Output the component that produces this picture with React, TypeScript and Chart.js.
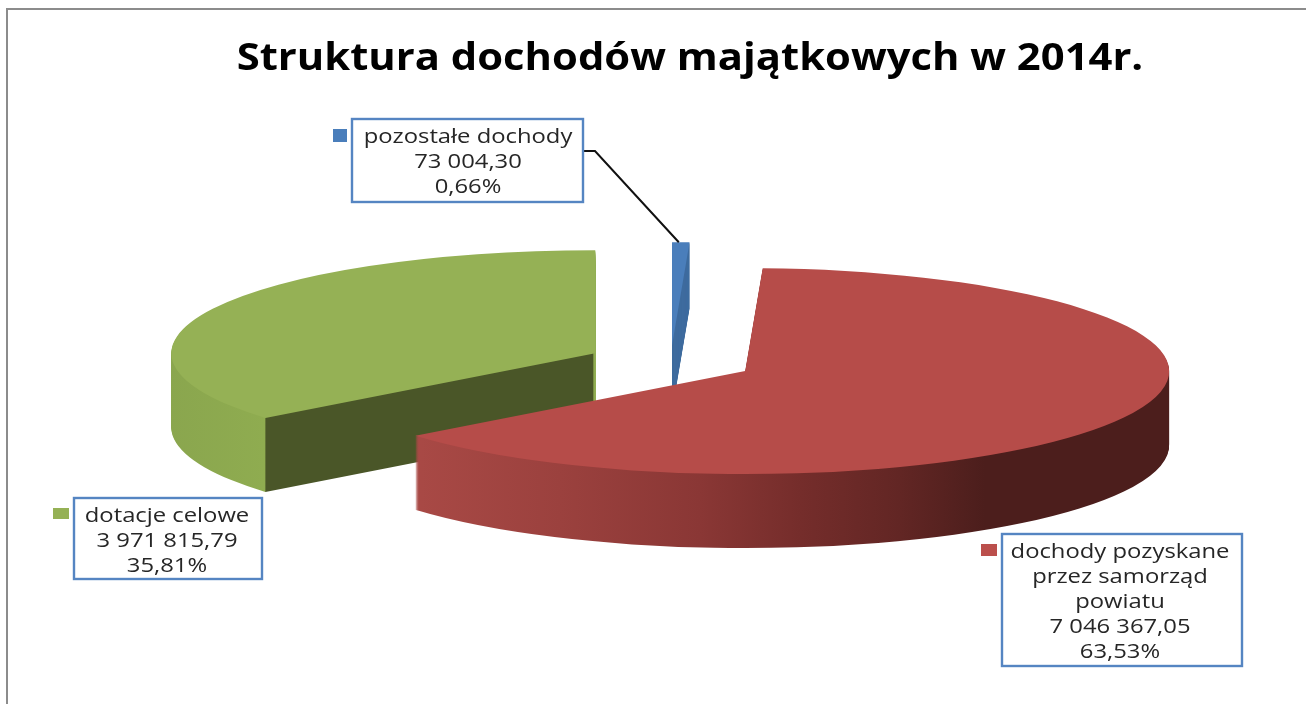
import React, { useEffect, useRef } from "react";
import { Chart, registerables } from "chart.js";

Chart.register(...registerables);

const chartTitle = "Struktura dochodów majątkowych w 2014r.";
const categories = ["pozostałe dochody", "dochody pozyskane przez samorząd powiatu", "dotacje celowe"];
const categoryLines = [["pozostałe dochody"], ["dochody pozyskane", "przez samorząd", "powiatu"], ["dotacje celowe"]];
const seriesValues = [73004.3, 7046367.05, 3971815.79];
const topColors = ["#4a7ebb", "#b64c49", "#95b155"];
const keyColors = ["#4a7ebb", "#bb4f4c", "#95b155"];
const explosion = [69, 83.5, 83.5];
const wallDepth = [66, 74, 74];

const PIE = { cx: 670.6, cy: 362, rx: 424, ry: 103 };
const FONT = '"Open Sans", sans-serif';
const BOXES = [
  { x: 352, y: 119, w: 231, h: 83, cx: 468, firstLine: 137, step: 25.3, key: [333, 129, 14, 13] },
  { x: 1002, y: 534, w: 240, h: 132, cx: 1120, firstLine: 552, step: 25, key: [981, 544, 16, 12] },
  { x: 74, y: 498, w: 188, h: 81, cx: 167, firstLine: 516, step: 25, key: [53, 508, 16, 11] },
];

const formatValue = (v: number) => {
  const [whole, dec] = v.toFixed(2).split(".");
  return whole.replace(/\B(?=(\d{3})+(?!\d))/g, " ") + "," + dec;
};
const total = seriesValues.reduce((a, b) => a + b, 0);
const formatPct = (v: number) => ((v / total) * 100).toFixed(2).replace(".", ",") + "%";

function wallFill(ctx: CanvasRenderingContext2D, i: number, tx: number, tipX: number): CanvasGradient | string {
  if (i === 0) return "#3f6c9f";
  const stops: [number, string][] =
    i === 1
      ? [
          [401, "#aa4a46"],
          [560, "#9b413e"],
          [700, "#8a3735"],
          [800, "#752d2b"],
          [900, "#622624"],
          [985, "#4c1e1c"],
          [1175, "#4c1e1c"],
        ]
      : [
          [170, "#8aa64e"],
          [tipX - 0.5, "#8fac50"],
          [tipX + 0.5, "#4a5628"],
          [592.5, "#4a5628"],
          [594, "#8fac50"],
          [600, "#8fac50"],
        ];
  const x0 = stops[0][0];
  const x1 = stops[stops.length - 1][0];
  const g = ctx.createLinearGradient(x0 - tx, 0, x1 - tx, 0);
  stops.forEach(([x, c]) => g.addColorStop((x - x0) / (x1 - x0), c));
  return g;
}

const pie3d = {
  id: "pie3d",
  beforeDraw(chart: any) {
    const { ctx, width, height } = chart;
    ctx.save();
    ctx.fillStyle = "#ffffff";
    ctx.fillRect(0, 0, width, height);
    ctx.strokeStyle = "#8c8c8c";
    ctx.lineWidth = 2;
    ctx.beginPath();
    ctx.moveTo(7, height);
    ctx.lineTo(7, 9);
    ctx.lineTo(width, 9);
    ctx.stroke();
    ctx.restore();
  },
  beforeDatasetsDraw(chart: any) {
    const { ctx } = chart;
    const arcs = chart.getDatasetMeta(0).data;
    const s = PIE.ry / PIE.rx;
    [0, 2, 1].forEach((i) => {
      const el = arcs[i];
      const mid = (el.startAngle + el.endAngle) / 2;
      const e = explosion[i];
      const tx = PIE.cx + Math.cos(mid) * e - el.x;
      const cy = PIE.cy + Math.sin(mid) * e * s;
      const tipX = el.x + tx + Math.cos(el.startAngle) * el.outerRadius;
      const orig = el.options;
      const wall = wallFill(ctx, i, tx, tipX);
      el.options = Object.create(orig, { backgroundColor: { value: wall } });
      for (let d = wallDepth[i]; d >= 0; d--) {
        if (d === 0) el.options = orig;
        ctx.save();
        ctx.translate(tx, cy + d);
        ctx.scale(1, s);
        ctx.translate(0, -el.y);
        el.draw(ctx);
        ctx.restore();
      }
    });
    return false;
  },
  afterDraw(chart: any) {
    const { ctx } = chart;
    const arcs = chart.getDatasetMeta(0).data;
    const s = PIE.ry / PIE.rx;
    const blue = arcs[0];
    const bMid = (blue.startAngle + blue.endAngle) / 2;
    const bx = PIE.cx + Math.cos(bMid) * (explosion[0] + blue.outerRadius);
    const by = PIE.cy + Math.sin(bMid) * (explosion[0] + blue.outerRadius) * s;
    ctx.save();

    // title: stretched horizontally like the reference
    ctx.save();
    ctx.translate(690, 70);
    ctx.scale(1.129, 1);
    ctx.fillStyle = "#000000";
    ctx.font = `700 37px ${FONT}`;
    ctx.textAlign = "center";
    ctx.textBaseline = "alphabetic";
    ctx.fillText(chartTitle, 0, 0);
    ctx.restore();

    ctx.strokeStyle = "#111111";
    ctx.lineWidth = 2;
    ctx.beginPath();
    ctx.moveTo(583, 151);
    ctx.lineTo(595, 151);
    ctx.lineTo(bx - 2, by);
    ctx.stroke();

    categoryLines.forEach((lines, i) => {
      const b = BOXES[i];
      ctx.fillStyle = "#ffffff";
      ctx.fillRect(b.x, b.y, b.w, b.h);
      ctx.strokeStyle = "#5585c2";
      ctx.lineWidth = 2.4;
      ctx.strokeRect(b.x, b.y, b.w, b.h);
      ctx.fillStyle = keyColors[i];
      ctx.fillRect(b.key[0], b.key[1], b.key[2], b.key[3]);
      ctx.fillStyle = "#262626";
      ctx.font = `400 20px ${FONT}`;
      ctx.textAlign = "center";
      ctx.textBaseline = "middle";
      const all = [...lines, formatValue(seriesValues[i]), formatPct(seriesValues[i])];
      all.forEach((t, k) => {
        ctx.save();
        ctx.translate(b.cx, b.firstLine + k * b.step);
        ctx.scale(1.19, 1);
        ctx.fillText(t, 0, 0);
        ctx.restore();
      });
    });
    ctx.restore();
  },
};

export default function App() {
  const ref = useRef<HTMLCanvasElement>(null);
  useEffect(() => {
    const chart = new Chart(ref.current as HTMLCanvasElement, {
      type: "pie",
      data: {
        labels: categories,
        datasets: [{ data: seriesValues, backgroundColor: topColors, borderWidth: 0 }],
      },
      options: {
        responsive: false,
        animation: false,
        events: [],
        radius: PIE.rx,
        plugins: {
          legend: { display: false },
          tooltip: { enabled: false },
        },
      } as any,
      plugins: [pie3d as any],
    });
    return () => chart.destroy();
  }, []);
  return (
    <div style={{ position: "absolute", left: 0, top: 0, width: 1306, height: 704, overflow: "hidden" }}>
      <canvas ref={ref} width={1306} height={704} style={{ display: "block" }} />
    </div>
  );
}
